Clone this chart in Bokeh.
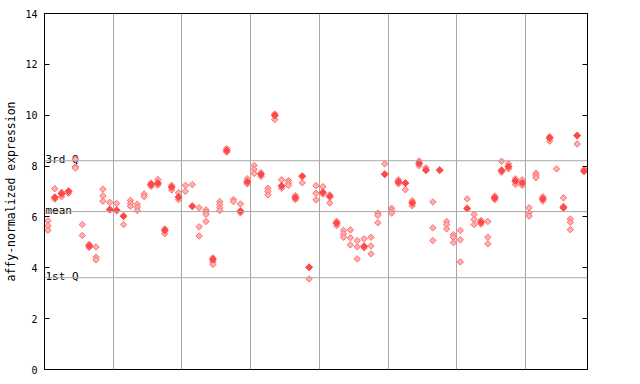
import math
from bokeh.plotting import figure
from bokeh.models import Range1d, LinearAxis, FixedTicker, Span
from bokeh.core.properties import value
from bokeh.embed import file_html
from bokeh.resources import INLINE

# replicate (hollow) values per sample
hollow = [
    [5.85, 5.65, 5.47], [7.11, 6.70], [6.97, 6.80], [6.93], [8.27, 7.97, 7.92],
    [5.70, 5.27], [4.92, 4.80], [4.82, 4.42, 4.31], [7.09, 6.83, 6.62], [6.57],
    [6.53], [5.70], [6.65, 6.53, 6.42], [6.50, 6.38, 6.25], [6.90, 6.80],
    [7.33, 7.20], [7.47, 7.25], [5.53, 5.34], [7.24, 7.06], [6.95, 6.68],
    [7.24, 7.01], [7.27], [6.36, 5.61, 5.25], [6.28, 6.19, 6.10, 5.82], [4.39, 4.22, 4.13],
    [6.60, 6.49, 6.36, 6.25], [8.69, 8.55], [6.68, 6.60], [6.51, 6.16], [7.50, 7.30],
    [8.02, 7.87, 7.71], [7.74, 7.60], [7.13, 7.00, 6.87], [10.05, 9.83], [7.46, 7.13],
    [7.43, 7.34, 7.24], [6.84, 6.68], [7.34], [3.56], [7.23, 6.93, 6.67],
    [7.19, 6.90], [6.87, 6.55], [5.83, 5.66], [5.47, 5.33, 5.20], [5.49, 5.18, 4.90],
    [5.07, 4.82, 4.35], [5.14, 4.78], [5.20, 4.86, 4.55], [6.15, 6.06, 5.77], [8.09],
    [6.34, 6.25, 6.15], [7.46, 7.30], [7.07], [6.64, 6.44], [8.20, 8.02],
    [7.93], [6.59, 5.57, 5.07], [], [5.82, 5.70, 5.53], [5.30, 5.20, 4.99],
    [5.47, 5.10, 4.23], [6.71], [6.10, 5.90, 5.70], [5.86, 5.72], [5.82, 5.20, 4.94],
    [6.82, 6.68], [8.19, 7.76], [8.09, 7.89], [7.50, 7.28], [7.46, 7.24],
    [6.36, 6.15, 6.03], [7.72, 7.63, 7.54], [6.79, 6.63], [9.16, 8.98], [7.89],
    [6.75, 6.42], [5.92, 5.79, 5.50], [8.87], [7.87],
]

# highlighted (filled) value per sample, None if absent
filled = [
    None, 6.77, 6.91, 7.01, None, None, 4.86, None, None, 6.29,
    6.26, 6.03, None, None, None, 7.27, 7.33, 5.47, 7.17, 6.78,
    None, 6.42, None, None, 4.33, None, 8.61, None, 6.23, 7.38,
    None, 7.67, None, 9.99, 7.22, None, 6.76, 7.60, 4.02, None,
    6.97, 6.80, 5.75, None, None, None, 4.85, None, None, 7.68,
    None, 7.38, 7.33, 6.55, 8.11, 7.84, None, 7.84, None, None,
    None, 6.33, None, 5.79, None, 6.75, 7.83, 7.98, 7.41, 7.34,
    None, None, 6.71, 9.10, None, 6.36, None, 9.20, 7.80,
]

q3_value = 8.21
mean_value = 6.21
q1_value = 3.61
y_ticks = [0, 2, 4, 6, 8, 10, 12, 14]
group_ticks = [10, 20, 30, 40, 50, 60, 70]

n = len(hollow)
hx, hy = [], []
for i, vals in enumerate(hollow):
    for v in vals:
        hx.append(i + 0.5)
        hy.append(v)
fx = [i + 0.5 for i, v in enumerate(filled) if v is not None]
fy = [v for v in filled if v is not None]

p = figure(width=632, height=376, output_backend="svg", toolbar_location=None,
           x_range=Range1d(0, n), y_range=Range1d(0, 14),
           min_border_left=44, min_border_right=45, min_border_top=13, min_border_bottom=7)
p.background_fill_color = "white"
p.border_fill_color = "white"
p.outline_line_color = "black"
p.outline_line_width = 1
p.outline_line_alpha = 1

p.xaxis.visible = False
p.xgrid.ticker = FixedTicker(ticks=group_ticks)
p.xgrid.grid_line_color = "#a8a8a8"
p.xgrid.grid_line_width = 1
p.ygrid.visible = False

ya = p.yaxis[0]
ya.ticker = FixedTicker(ticks=y_ticks)
ya.major_tick_in = 5
ya.major_tick_out = 0
ya.minor_tick_in = 0
ya.minor_tick_out = 0
ya.axis_line_color = "black"
ya.major_label_text_font = "DejaVu Sans Mono"
ya.major_label_text_font_size = "10px"
ya.major_label_text_color = "black"
ya.major_label_standoff = 7
ya.axis_label = "affy-normalized expression"
ya.axis_label_text_font = "DejaVu Sans Mono"
ya.axis_label_text_font_size = "11.5px"
ya.axis_label_text_font_style = "normal"
ya.axis_label_text_color = "black"
ya.axis_label_standoff = 4

ra = LinearAxis(ticker=FixedTicker(ticks=y_ticks), major_tick_in=5, major_tick_out=0,
                minor_tick_in=0, minor_tick_out=0,
                major_label_overrides={t: "" for t in y_ticks},
                axis_line_color="black")
p.add_layout(ra, "right")

for val, lab in [(q3_value, "3rd Q"), (mean_value, "mean"), (q1_value, "1st Q")]:
    p.add_layout(Span(location=val, dimension="width", line_color="#a8a8a8", line_width=1))
    p.text(x=[0], y=[val], text=[lab], text_font=value("DejaVu Sans Mono"),
           text_font_size="11px", text_color="black", text_baseline="alphabetic",
           text_align="left", x_offset=1, y_offset=-1)

p.scatter(x=hx, y=hy, marker="square", angle=math.pi / 4, size=4.5,
          fill_color="#ffb0b0", line_color="#ff6a6a", line_width=1)
p.scatter(x=fx, y=fy, marker="square", angle=math.pi / 4, size=5,
          fill_color="#ff4848", line_color="#ff4848", line_width=1)

open("out.html", "w").write(file_html(p, INLINE))
